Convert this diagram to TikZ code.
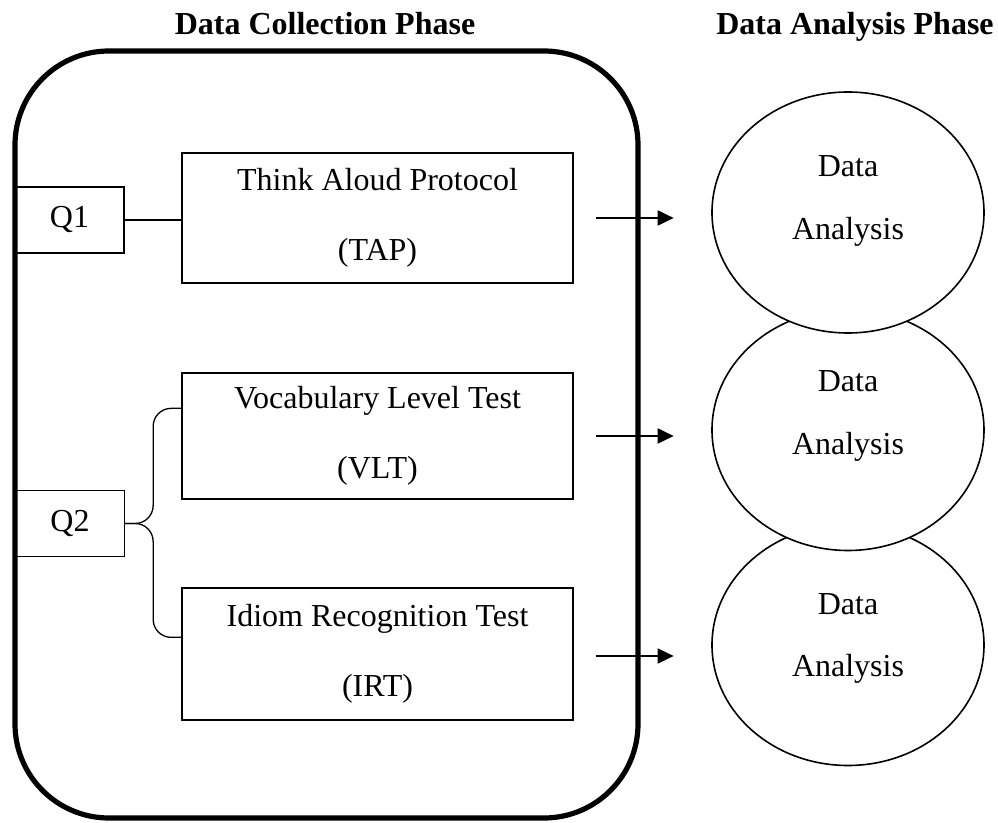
\documentclass[tikz,border=0pt]{standalone}
\usepackage{fontspec}
\setmainfont{Liberation Serif}
\usetikzlibrary{shapes.geometric,arrows.meta,calc}
\begin{document}
\begin{tikzpicture}[x=0.5pt,y=-0.5pt,
  every node/.style={font=\fontsize{16}{35}\selectfont},
  qbox/.style={draw,line width=0.65pt,inner sep=0,minimum width=54.5pt,minimum height=33pt},
  mbox/.style={draw,line width=0.65pt,fill=white,inner sep=0,minimum width=195.5pt,align=center},
  ell/.style={draw,ellipse,fill=white,line width=0.8pt,minimum width=136pt,minimum height=120.5pt,inner sep=0},
  etext/.style={anchor=base,inner sep=0,font=\fontsize{16}{19}\selectfont},
  ptitle/.style={font=\fontsize{16}{19}\selectfont\bfseries,anchor=base,inner sep=0},
  arr/.style={line width=1pt,-{Triangle[length=8pt,width=7.5pt]}},
  conn/.style={line width=0.65pt}]
\useasboundingbox (0,0) rectangle (998,823);
% titles
\node[ptitle] (t1) at (325,35) {Data Collection Phase};
\node[ptitle] (t2) at (855,35) {Data Analysis Phase};
% frame
\node[draw,line width=2.6pt,rounded corners=47pt,inner sep=0,
      minimum width=311.5pt,minimum height=383.5pt] (frame) at (326.5,434.5) {};
% boxes
\node[mbox,minimum height=65pt] (tap) at (377.5,218) {Think Aloud Protocol\\(TAP)};
\node[mbox,minimum height=63pt] (vlt) at (377.5,436) {Vocabulary Level Test\\(VLT)};
\node[mbox,minimum height=66pt] (irt) at (377.5,654) {Idiom Recognition Test\\(IRT)};
\node[qbox] (q1) at (69.5,220) {Q1};
\node[qbox] (q2) at (70,523.5) {Q2};
% connectors
\draw[conn] (q1.east) -- (q1.east -| tap.west);
\draw[conn,rounded corners=9pt] ($(vlt.north west)+(0,36)$) -| ($(q2.east)+(28,0)$) -- (q2.east);
\draw[conn,rounded corners=9pt] (q2.east) -- ($(q2.east)+(28,0)$) |- ($(irt.north west)+(0,50)$);
% arrows
\draw[arr] ($(tap.east)+(22,0)$) -- ($(tap.east)+(100,0)$);
\draw[arr] ($(vlt.east)+(22,0)$) -- ($(vlt.east)+(100,0)$);
\draw[arr] ($(irt.east)+(22,2)$) -- ($(irt.east)+(100,2)$);
% ellipses (bottom first, so upper ones overlap)
\node[ell] (e3) at (848,645) {};
\node[ell] (e2) at (848,430) {};
\node[ell] (e1) at (848,212.5) {};
\node[etext] (e1a) at (848,177) {Data};
\node[etext] (e1b) at (848,240) {Analysis};
\node[etext] (e2a) at (848,392) {Data};
\node[etext] (e2b) at (848,455) {Analysis};
\node[etext] (e3a) at (848,615) {Data};
\node[etext] (e3b) at (848,677) {Analysis};
\end{tikzpicture}
\end{document}
